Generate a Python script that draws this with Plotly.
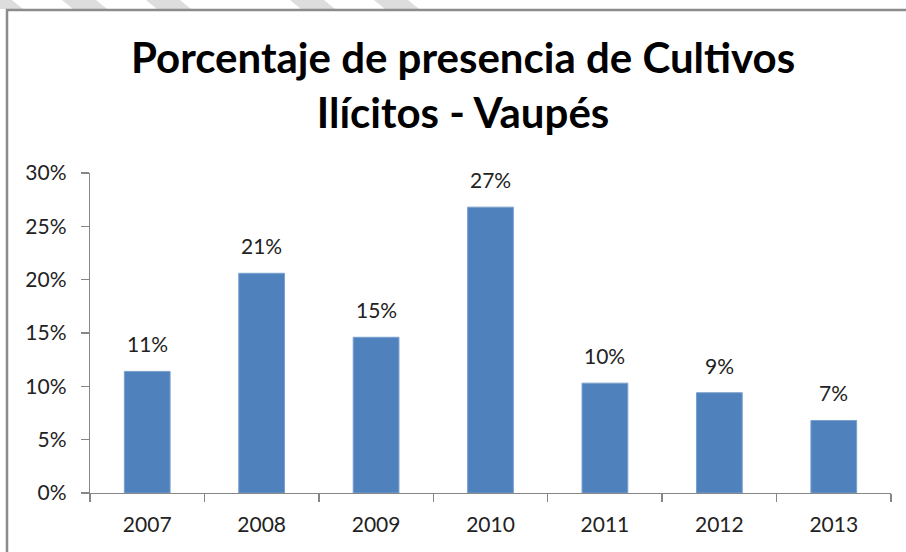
import plotly.graph_objects as go

years = ["2007", "2008", "2009", "2010", "2011", "2012", "2013"]
values = [0.114, 0.206, 0.146, 0.268, 0.103, 0.094, 0.068]
y_ticks = [0.0, 0.05, 0.10, 0.15, 0.20, 0.25, 0.30]
y_tick_labels = ["0%", "5%", "10%", "15%", "20%", "25%", "30%"]
title_lines = ["Porcentaje de presencia de Cultivos", "Ilícitos - Vaupés"]

W, H = 906, 552
L, R, T, B = 90, 15, 173, 59
pw, ph = W - L - R, H - T - B

def px_x(x):
    return (x - L) / pw

def px_y(y):
    return (H - B - y) / ph

FONT = "Lato"
AXIS = "#868686"

fig = go.Figure()
fig.add_trace(go.Bar(
    x=list(range(len(years))), y=values,
    marker=dict(color="#4F81BD", line=dict(color="#7BA0CD", width=1)),
    hoverinfo="skip",
))

for i, v in enumerate(values):
    fig.add_annotation(
        x=i, y=v, xref="x", yref="y",
        text=f"{int(v * 100 + 0.5)}%", showarrow=False,
        yanchor="bottom", yshift=13,
        font=dict(family=FONT, size=21, color="#222222"),
    )

# title
fig.add_annotation(
    xref="paper", yref="paper", x=px_x(463), y=px_y(30),
    xanchor="center", yanchor="top",
    text="<b>" + "<br>".join(title_lines) + "</b>", showarrow=False,
    font=dict(family=FONT, size=42, color="#000000"),
)

shapes = []
# chart border frame
shapes.append(dict(type="rect", xref="paper", yref="paper",
                   x0=px_x(7), x1=px_x(960), y0=px_y(10), y1=px_y(600),
                   line=dict(color="#8C8C8C", width=2.5), fillcolor="rgba(0,0,0,0)",
                   layer="above"))
# decorative light stripes above the frame
for sx in [-22, 62, 146, 290, 374]:
    path = (f"M {px_x(sx):.5f},{px_y(0):.5f} L {px_x(sx + 34):.5f},{px_y(0):.5f} "
            f"L {px_x(sx + 45):.5f},{px_y(9):.5f} L {px_x(sx + 11):.5f},{px_y(9):.5f} Z")
    shapes.append(dict(type="path", xref="paper", yref="paper", path=path,
                       fillcolor="#DDDDDD", line=dict(width=0), layer="below"))

fig.update_layout(
    width=W, height=H,
    margin=dict(l=L, r=R, t=T, b=B, autoexpand=False),
    paper_bgcolor="white", plot_bgcolor="white",
    showlegend=False, bargap=0.6,
    shapes=shapes,
    font=dict(family=FONT, size=21, color="#222222"),
)
fig.update_xaxes(
    range=[-0.5, len(years) - 0.5], tickmode="array",
    tickvals=list(range(len(years))), ticktext=years, tickangle=0,
    showline=True, linecolor=AXIS, linewidth=1.3,
    ticks="", showgrid=False, zeroline=False, automargin=False,
    ticklabelstandoff=12,
    tickfont=dict(family=FONT, size=21, color="#222222"),
)
# boundary ticks via minor ticks
fig.update_xaxes(minor=dict(tickmode="array",
                            tickvals=[i - 0.5 for i in range(len(years) + 1)],
                            ticks="outside", ticklen=8, tickcolor=AXIS, tickwidth=1.3,
                            showgrid=False))
fig.update_yaxes(
    range=[0, 0.30], tickvals=y_ticks, ticktext=y_tick_labels,
    showline=True, linecolor=AXIS, linewidth=1.3,
    ticks="outside", ticklen=8, tickcolor=AXIS, tickwidth=1.3,
    showgrid=False, zeroline=False, automargin=False,
    ticklabelstandoff=10,
    tickfont=dict(family=FONT, size=21, color="#222222"),
)

fig.write_html("out.html", config={"displayModeBar": False, "staticPlot": True},
               post_script="document.body.style.margin='0';document.body.style.overflow='hidden';")
